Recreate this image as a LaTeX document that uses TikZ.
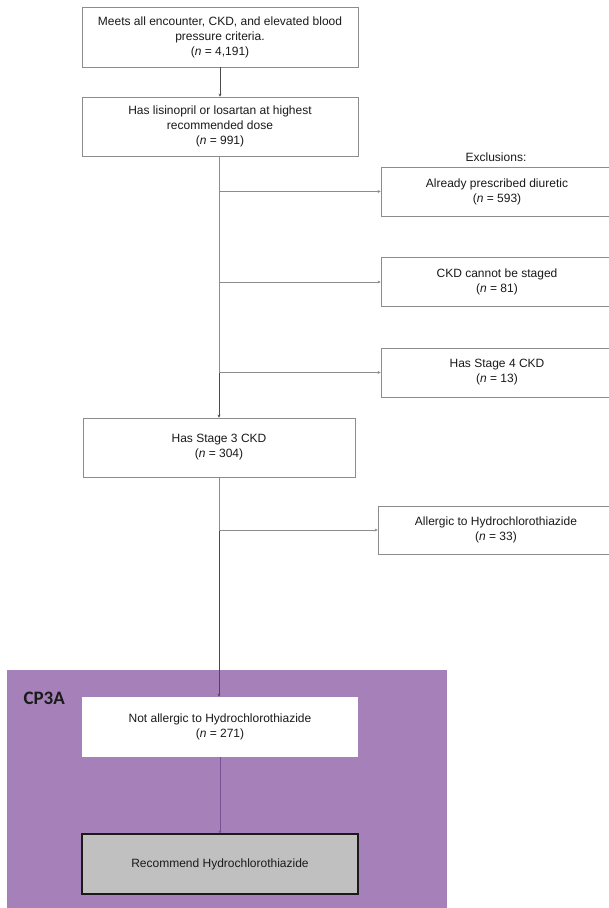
\documentclass[tikz,border=0pt]{standalone}
\usepackage{fontspec}
\setmainfont{Liberation Sans}
\newfontfamily\cpfont{Carlito}
\usetikzlibrary{arrows.meta}
\definecolor{Canvas}{HTML}{FFFFFF}
\definecolor{Frame}{HTML}{8C8C8C}
\definecolor{Trunk}{HTML}{4A4A4A}
\definecolor{Lilac}{HTML}{A680B9}
\definecolor{Plum}{HTML}{7B4F95}
\definecolor{Shade}{HTML}{C0C0C0}
\definecolor{Ink}{HTML}{1A1A1A}

\begin{document}
\begin{tikzpicture}[x=1pt,y=-1pt,font=\fontsize{12}{15}\selectfont,every node/.style={text=Ink},
  box/.style={draw=Frame,fill=white,line width=0.7pt,align=center,minimum width=276pt,minimum height=60pt,inner sep=2pt},
  exbox/.style={box,minimum width=232pt,minimum height=49pt},
  arr/.style={draw=Trunk,line width=0.7pt,-{Stealth[length=3pt,width=3pt]}},
  twig/.style={arr,draw=Frame}]
\useasboundingbox (0,0) rectangle (609,908);
\fill[Canvas] (0,0) rectangle (609,908);
\fill[Lilac] (7,670) rectangle (447,910);
\node[anchor=west,font=\cpfont\bfseries\fontsize{19}{22}\selectfont] (cp) at (20,698){CP3A};
\node[box] (meets) at (220,37){Meets all encounter, CKD, and elevated blood\\pressure criteria.\\(\textit{n} = 4,191)};
\node[box,minimum height=59pt] (dose) at (220,126.5){Has lisinopril or losartan at highest\\recommended dose\\(\textit{n} = 991)};
\node (excl) at (496,157){Exclusions:};
\node[exbox] (diur) at (497,191.5){Already prescribed diuretic\\(\textit{n} = 593)};
\node[exbox] (stage) at (497,282){CKD cannot be staged\\(\textit{n} = 81)};
\node[exbox] (four) at (497,372.5){Has Stage 4 CKD\\(\textit{n} = 13)};
\node[box,minimum width=272pt,minimum height=59pt] (three) at (219,447.5){Has Stage 3 CKD\\(\textit{n} = 304)};
\node[exbox,minimum width=236pt,minimum height=48pt] (allerg) at (496,530){Allergic to Hydrochlorothiazide\\(\textit{n} = 33)};
\node[box,draw=none] (notall) at (220,727){Not allergic to Hydrochlorothiazide\\(\textit{n} = 271)};
\node[box,fill=Shade,draw=Ink,line width=1.1pt] (rec) at (220,864){Recommend Hydrochlorothiazide};
\draw[arr] (meets) -- (dose);
\draw[arr] (dose.south -| three.north) -- (three.north);
\draw[twig] (dose.south -| three.north) |- (diur.west);
\draw[twig] (dose.south -| three.north) |- (stage.west);
\draw[twig] (dose.south -| three.north) |- (four.west);
\draw[arr] (three.south) -- (notall.north -| three.south);
\draw[twig] (three.south) |- (allerg.west);
\draw[arr,draw=Plum] (notall) -- (rec);
\end{tikzpicture}
\end{document}
